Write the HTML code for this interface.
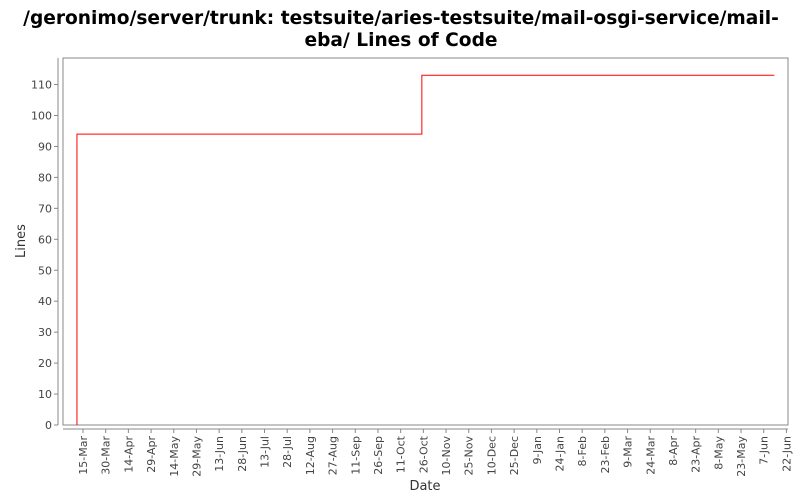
<!DOCTYPE html>
<html><head><meta charset="utf-8"><style>
body{margin:0;background:#fff;font-family:"DejaVu Sans","Liberation Sans",sans-serif}
</style></head><body>
<svg id="c" width="800" height="500" xmlns="http://www.w3.org/2000/svg" font-family="DejaVu Sans, Liberation Sans, sans-serif">
<text x="401" y="24" text-anchor="middle" font-size="18.6" font-weight="bold" fill="#000">/geronimo/server/trunk: testsuite/aries-testsuite/mail-osgi-service/mail-</text>
<text x="401" y="46" text-anchor="middle" font-size="18.6" font-weight="bold" fill="#000">eba/ Lines of Code</text>
<rect x="63" y="58" width="725" height="367" fill="#fff" stroke="#888"/>
<text x="425" y="490" text-anchor="middle" font-size="13" fill="#333">Date</text>
<text transform="translate(25,241) rotate(-90)" text-anchor="middle" font-size="13" fill="#333">Lines</text>
<g id="ax"></g>
</svg>
<script>
const pointDates=["2011-03-11","2011-10-25","2012-06-14"];
const pointValues=[94,113,113];
const yTicks=[0,10,20,30,40,50,60,70,80,90,100,110];
const tickStart="2011-03-15";
const tickCount=32;
const mon=["Jan","Feb","Mar","Apr","May","Jun","Jul","Aug","Sep","Oct","Nov","Dec"];
const NS="http://www.w3.org/2000/svg";
const g=document.getElementById('ax');
const DAY=86400000;
const t0=Date.parse(tickStart+"T00:00:00Z");
function xs(ms){return 83+(ms-t0)/DAY*1.5127;}
function ys(v){return 425-v*3.095;}
function el(t,a,txt){const e=document.createElementNS(NS,t);for(const k in a)e.setAttribute(k,a[k]);if(txt!=null)e.textContent=txt;g.appendChild(e);return e;}
const yl=el('line',{x1:58,y1:58,x2:58,y2:425,stroke:'#888'});


yTicks.forEach(v=>{const y=ys(v);
 const t=el('line',{x1:54,y1:y,x2:58,y2:y,stroke:'#888'});
 
 
 const l=el('text',{x:52,y:y+4,'text-anchor':'end','font-size':11,fill:'#444'},String(v));
 
 
});
const xl=el('line',{x1:63,y1:429,x2:788,y2:429,stroke:'#888'});


for(let i=0;i<tickCount;i++){const ms=t0+i*15*DAY;const d=new Date(ms);const x=xs(ms);
 const t=el('line',{x1:x,y1:429,x2:x,y2:433,stroke:'#888'});
 
 
 const l=el('text',{transform:`translate(${x+4},436) rotate(-90)`,'text-anchor':'end','font-size':11,fill:'#444'},d.getUTCDate()+"-"+mon[d.getUTCMonth()]);
 
 
}
let p=`M${xs(Date.parse(pointDates[0]+"T00:00:00Z"))},${ys(0)}`;
pointDates.forEach((d,i)=>{const x=xs(Date.parse(d+"T00:00:00Z"));
 if(i>0)p+=` L${x},${ys(pointValues[i-1])}`;
 p+=` L${x},${ys(pointValues[i])}`;});
const line=el('path',{d:p,fill:'none',stroke:'#f00','stroke-width':1});


</script>
</body></html>
